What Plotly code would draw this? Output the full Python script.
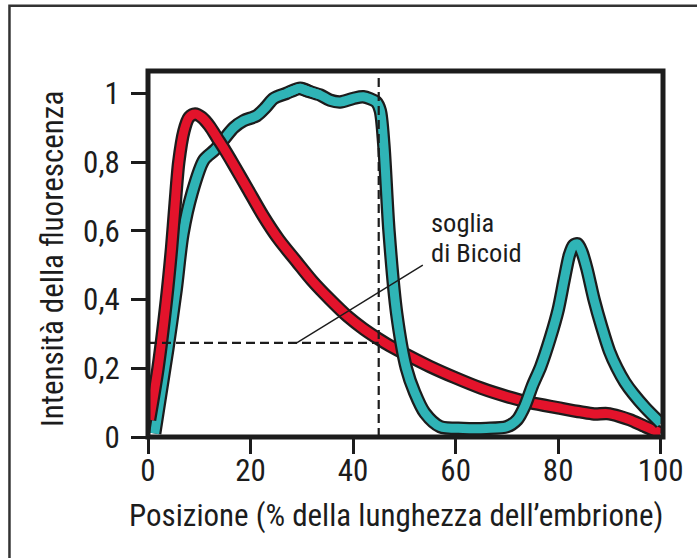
import plotly.graph_objects as go

# ---- data ----
red_x = [0.3, 1.95, 3.6, 4.6, 5.3, 6.0, 7.0, 8.0, 9.2, 10.5, 12.0, 13.5, 15.0, 16.6, 19.5, 22.4,
         25.5, 29.0, 32.0, 35.5, 39.0, 42.0, 45.0, 47.2, 51.0, 55.0, 60.0, 65.0, 70.0,
         74.6, 80.0, 84.4, 87.0, 89.6, 92.0, 94.0, 97.0, 100.0]
red_y = [0.05, 0.20, 0.40, 0.55, 0.68, 0.80, 0.89, 0.93, 0.94, 0.93, 0.905, 0.87, 0.835, 0.795, 0.72, 0.645,
         0.575, 0.51, 0.455, 0.40, 0.35, 0.315, 0.285, 0.265, 0.235, 0.205, 0.172, 0.142, 0.118,
         0.10, 0.085, 0.073, 0.067, 0.068, 0.06, 0.05, 0.03, 0.012]

teal_x = [1.3, 3.9, 5.5, 6.8, 8.6, 10.9, 13.0, 15.0, 16.7, 18.6, 21.2, 23.0, 24.5, 27.0, 29.7,
          31.5, 33.6, 35.5, 37.5, 40.0, 42.0, 44.5, 45.3, 46.0, 47.0, 48.5, 50.4, 52.0, 54.0,
          57.0, 61.5, 66.0, 70.0, 72.0, 73.5, 75.0, 76.6, 78.5, 80.0, 81.2, 82.2, 83.0, 83.8,
          84.6, 85.6, 87.0, 88.5, 90.0, 91.5, 93.0, 94.7, 97.0, 100.0]
teal_y = [0.01, 0.26, 0.43, 0.59, 0.71, 0.806, 0.835, 0.87, 0.90, 0.92, 0.935, 0.96, 0.985, 1.0, 1.015,
          1.005, 0.995, 0.98, 0.975, 0.985, 0.99, 0.975, 0.95, 0.85, 0.60, 0.36, 0.20, 0.13, 0.07,
          0.03, 0.025, 0.025, 0.03, 0.05, 0.09, 0.15, 0.205, 0.29, 0.37, 0.46, 0.53, 0.558, 0.562,
          0.54, 0.49, 0.40, 0.32, 0.25, 0.20, 0.16, 0.125, 0.085, 0.04]

x_ticks = [0, 20, 40, 60, 80, 100]
y_ticks = [0, 0.2, 0.4, 0.6, 0.8, 1]
y_tick_labels = ["0", "0,2", "0,4", "0,6", "0,8", "1"]

threshold_x = 45
threshold_y = 0.274
label_line = ([29.0, 53.6], [0.274, 0.50])

FONT = "Liberation Sans Narrow, Roboto Condensed, Arial Narrow, sans-serif"
RED = "#e3132b"
TEAL = "#2fb4b6"
INK = "#1c1c1c"

fig = go.Figure()

def add_curve(xs, ys, color):
    fig.add_trace(go.Scatter(x=xs, y=ys, mode="lines", line=dict(color=INK, width=13.5, shape="spline", smoothing=0.8),
                             hoverinfo="skip", showlegend=False))
    fig.add_trace(go.Scatter(x=xs, y=ys, mode="lines", line=dict(color=color, width=9, shape="spline", smoothing=0.8),
                             hoverinfo="skip", showlegend=False))

split = 16
# first part of teal drawn below red, the rest above it
add_curve(teal_x[:split], teal_y[:split], TEAL)
add_curve(red_x, red_y, RED)
add_curve(teal_x[split - 2:], teal_y[split - 2:], TEAL)
# small patch to hide the join
fig.add_trace(go.Scatter(x=teal_x[split - 3:split + 1], y=teal_y[split - 3:split + 1], mode="lines",
                         line=dict(color=TEAL, width=9, shape="spline", smoothing=0.8),
                         hoverinfo="skip", showlegend=False))

shapes = [
    dict(type="line", xref="x", yref="y", x0=0, x1=threshold_x, y0=threshold_y, y1=threshold_y,
         line=dict(color=INK, width=2.2, dash="9px,5px"), layer="above"),
    dict(type="line", xref="x", yref="paper", x0=threshold_x, x1=threshold_x, y0=0, y1=1,
         line=dict(color=INK, width=2.2, dash="9px,5px"), layer="above"),
    dict(type="line", xref="x", yref="y", x0=label_line[0][0], x1=label_line[0][1],
         y0=label_line[1][0], y1=label_line[1][1], line=dict(color=INK, width=1.4), layer="above"),
    dict(type="rect", xref="paper", yref="paper", x0=0, x1=1, y0=0, y1=1,
         line=dict(color=INK, width=5), layer="above"),
    dict(type="rect", xref="paper", yref="paper", x0=-0.269, x1=1.3, y0=-0.6, y1=1.178,
         line=dict(color="#333333", width=2.5), layer="below"),
]

annotations = [
    dict(text="soglia", xref="paper", yref="paper", x=(429 - 148) / 515, y=(437 - 222) / 366,
         xanchor="left", yanchor="middle", align="left", showarrow=False,
         font=dict(family=FONT, size=26.5, color=INK)),
    dict(text="di Bicoid", xref="paper", yref="paper", x=(429 - 148) / 515, y=(437 - 252) / 366,
         xanchor="left", yanchor="middle", align="left", showarrow=False,
         font=dict(family=FONT, size=26.5, color=INK)),
    dict(text="Posizione (% della lunghezza dell’embrione)", xref="paper", yref="paper",
         x=(396 - 148) / 515, y=(437 - 515) / 366, xanchor="center", yanchor="middle", showarrow=False,
         font=dict(family=FONT, size=31, color=INK)),
    dict(text="Intensità della fluorescenza", xref="paper", yref="paper", textangle=-90,
         x=(52 - 148) / 515, y=(437 - 259) / 366, xanchor="center", yanchor="middle", showarrow=False,
         font=dict(family=FONT, size=31, color=INK)),
]

fig.update_layout(
    width=697, height=558,
    margin=dict(l=148, r=34, t=71, b=121),
    paper_bgcolor="white", plot_bgcolor="white",
    shapes=shapes, annotations=annotations,
    showlegend=False,
    xaxis=dict(range=[0, 100.45], tickvals=x_ticks, ticktext=[str(v) for v in x_ticks],
               showgrid=False, zeroline=False, showline=False,
               ticks="outside", ticklen=16, tickwidth=3, tickcolor=INK, ticklabelstandoff=-10,
               tickfont=dict(family=FONT, size=31, color=INK), fixedrange=True),
    yaxis=dict(range=[0, 1.065], tickvals=y_ticks, ticktext=y_tick_labels,
               showgrid=False, zeroline=False, showline=False,
               ticks="outside", ticklen=16, tickwidth=3, tickcolor=INK, ticklabelstandoff=5,
               tickfont=dict(family=FONT, size=31, color=INK), fixedrange=True),
)

fig.write_html("out.html", config={"displayModeBar": False},
               post_script="document.body.style.margin='0';document.body.style.padding='0';")
